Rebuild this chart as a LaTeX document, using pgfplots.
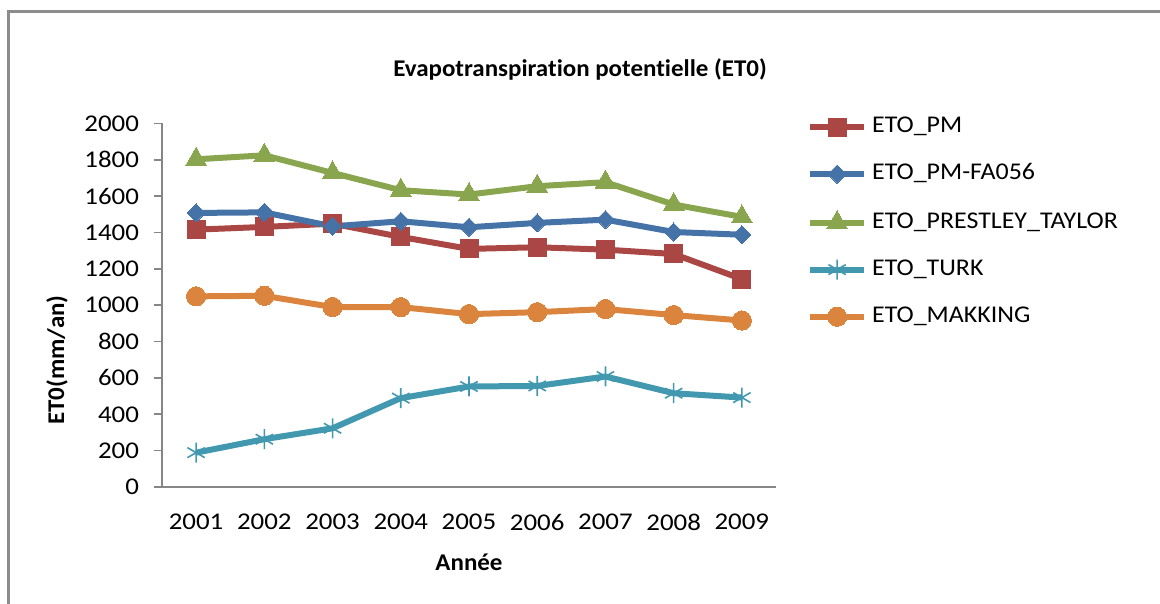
\documentclass[border=0pt]{standalone}
\usepackage{pgfplots}
\pgfplotsset{compat=1.18}
\usepackage{fontspec}
\setmainfont{Carlito}[FakeStretch=1.04, Ligatures=NoCommon]
\newfontfamily\tickfont{Carlito}[FakeStretch=1.12]
\newfontfamily\legendfont{Carlito}[FakeStretch=1.08]

\definecolor{cPM}{HTML}{AA4643}
\definecolor{cFAO}{HTML}{4572A7}
\definecolor{cPT}{HTML}{89A54E}
\definecolor{cTURK}{HTML}{4198AF}
\definecolor{cMAK}{HTML}{DB843D}
\definecolor{axisgray}{HTML}{868686}
\definecolor{framegray}{HTML}{8C8C8C}

\begin{document}
\begin{tikzpicture}[x=1pt,y=1pt]
\useasboundingbox (0,0) rectangle (580,302);
% chart area frame
\draw[line width=1.2pt, framegray] (4.25,-20) -- (4.25,296.25) -- (620,296.25);

\begin{axis}[
  at={(81pt,58.5pt)}, anchor=south west,
  scale only axis, width=307pt, height=181.75pt,
  xmin=2000.5, xmax=2009.5, ymin=0, ymax=2000,
  xtick={2001,...,2009}, ytick={0,200,...,2000},
  axis lines*=left,
  axis line style={draw=axisgray, line width=0.8pt, -},
  tick align=outside,
  major tick length=4pt,
  xtick style={draw=none},
  ytick style={draw=axisgray, line width=0.8pt},
  /pgf/number format/assume math mode=true,
  /pgf/number format/1000 sep={},
  tick label style={font=\tickfont\fontsize{12}{14}\selectfont, text=black},
  xticklabel style={yshift=-6pt},
  yticklabel style={xshift=-4pt},
  every axis plot/.append style={line width=3pt},
  legend cell align=left,
  legend image code/.code={%
    \draw[#1, mark repeat=2, mark phase=2]
      plot coordinates {(0pt,0pt) (13.5pt,0pt) (27pt,0pt)};},
  legend style={
    at={(rel axis cs:1.050,1.02)}, anchor=north west,
    draw=none, fill=none, inner sep=0pt,
    row sep=13.0pt, column sep=2.5pt,
    font=\legendfont\fontsize{12}{14}\selectfont,
    nodes={inner sep=0pt, text height=8pt, text depth=2.5pt}},
]
\addplot[cPM, mark=square*, mark size=4.5pt, mark options={solid, line width=0pt}]
  coordinates {(2001,1416) (2002,1431) (2003,1449) (2004,1376) (2005,1310)
               (2006,1319) (2007,1306) (2008,1282) (2009,1144)};
\addlegendentry{ETO\_PM}
\addplot[cFAO, mark=square*, mark size=3.2pt, mark options={solid, rotate=45, line width=0pt}]
  coordinates {(2001,1508) (2002,1511) (2003,1434) (2004,1462) (2005,1429)
               (2006,1453) (2007,1471) (2008,1403) (2009,1388)};
\addlegendentry{ETO\_PM-FA056}
\addplot[cPT, mark=triangle*, mark size=6pt, mark options={solid, line width=0pt}]
  coordinates {(2001,1803) (2002,1825) (2003,1728) (2004,1633) (2005,1609)
               (2006,1655) (2007,1677) (2008,1554) (2009,1486)};
\addlegendentry{ETO\_PRESTLEY\_TAYLOR}
\addplot[cTURK, mark=asterisk, mark size=5pt, mark options={solid, line width=0.8pt}]
  coordinates {(2001,189) (2002,263) (2003,323) (2004,489) (2005,553)
               (2006,556) (2007,608) (2008,516) (2009,492)};
\addlegendentry{ETO\_TURK}
\addplot[cMAK, mark=*, mark size=4.8pt, mark options={solid, line width=0pt}]
  coordinates {(2001,1049) (2002,1052) (2003,990) (2004,990) (2005,951)
               (2006,962) (2007,979) (2008,946) (2009,916)};
\addlegendentry{ETO\_MAKKING}
\end{axis}

% titles
\node[anchor=base, font=\bfseries\fontsize{12}{14}\selectfont] at (290,263.5)
  {Evapotranspiration potentielle (ET0)};
\node[rotate=90, font=\bfseries\fontsize{12}{14}\selectfont] at (28.5,122)
  {ET0(mm/an)};
\node[font=\bfseries\fontsize{12}{14}\selectfont] at (234.5,21) {Année};
\end{tikzpicture}
\end{document}
